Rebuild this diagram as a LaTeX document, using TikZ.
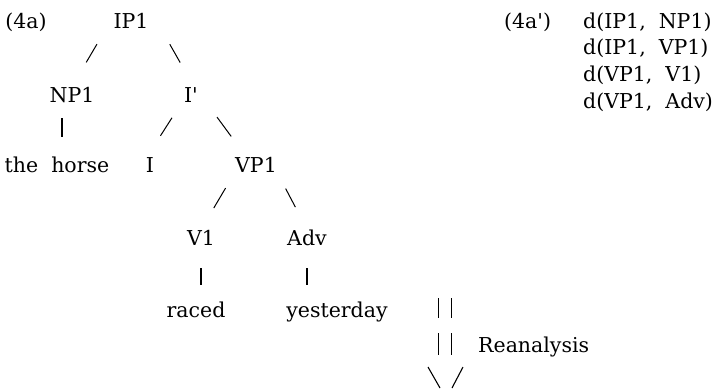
\documentclass[tikz,border=0pt]{standalone}
\usepackage{fontspec}
\setmainfont{DejaVu Serif}
\usetikzlibrary{positioning,calc}

\begin{document}
\begin{tikzpicture}[x=1pt,y=-1pt,
    word/.style={anchor=base, inner sep=0pt, font=\fontsize{20.5}{24}\selectfont},
    branch/.style={line width=1pt, shorten <=18.5pt, shorten >=25pt},
    bar/.style={line width=1.4pt}
  ]
  \useasboundingbox (0,0) rectangle (723,389);

  % the tree
  \node[word] (lab4a) at (26,28) {(4a)};
  \node[word] (ip1) at (131,28) {IP1};
  \node[word] (np1) at (72,102) {NP1};
  \node[word] (ibar) at (191,102) {I\textquotesingle};
  \node[word] (horse) at (57,172) {the\ \ horse};
  \node[word] (i) at (150,172) {I};
  \node[word] (vp1) at (256,172) {VP1};
  \node[word] (v1) at (201,245) {V1};
  \node[word] (adv) at (307,245) {Adv};
  \node[word] (raced) at (196,317) {raced};
  \node[word] (yday) at (337,317) {yesterday};

  \draw[branch, shorten >=28pt] ([xshift=-7pt]ip1.south west) -- (np1.north);
  \draw[branch, shorten >=28pt] ([xshift=12pt]ip1.south east) -- ([xshift=3pt]ibar.north);
  \draw[branch] ([xshift=-2pt]ibar.south west) -- ([xshift=-3pt]i.north);
  \draw[branch] ([xshift=8pt]ibar.south east) -- ([xshift=-10pt]vp1.north);
  \draw[branch] (vp1.south west) -- (v1.north);
  \draw[branch] (vp1.south east) -- (adv.north);

  \draw[bar, shorten <=16pt, shorten >=19pt] ([xshift=-10pt]np1.south) -- ([xshift=-10pt]np1.south |- horse.north);
  \draw[bar, shorten <=23pt, shorten >=16pt] (v1.south) -- (v1.south |- raced.north);
  \draw[bar, shorten <=23pt, shorten >=16pt] (adv.south) -- (adv.south |- yday.north);

  % reanalysis arrow
  \node[word, anchor=base west] (reana) at (478,352) {Reanalysis};
  \foreach \x in {438.5,451.5} {
    \draw[bar] (\x,298) -- (\x,318);
    \draw[bar] (\x,333) -- (\x,355);
  }
  \draw[line width=1.1pt] (428,367) -- (440,388);
  \draw[line width=1.1pt] (463,367) -- (452,388);

  % dominance statements
  \node[word, anchor=base west] (lab4ap) at (504,28) {(4a\textquotesingle)};
  \foreach \txt [count=\k] in {{d(IP1,\ \ NP1)},{d(IP1,\ \ VP1)},{d(VP1,\ \ V1)},{d(VP1,\ \ Adv)}}
    \node[word, anchor=base west] (dom\k) at (583,{28+26.7*(\k-1)}) {\txt};
\end{tikzpicture}
\end{document}
